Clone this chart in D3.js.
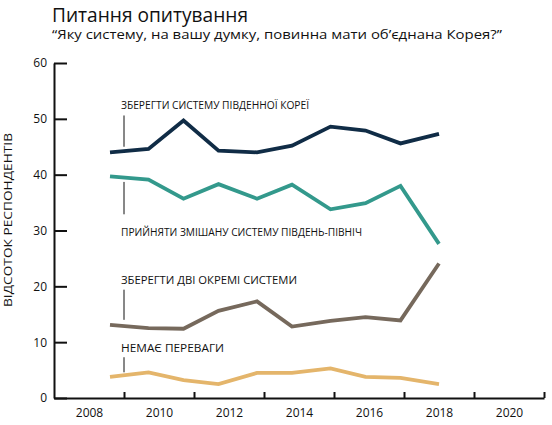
<!DOCTYPE html>
<html>
<head>
<meta charset="utf-8">
<script src="https://cdn.jsdelivr.net/npm/d3@7"></script>
<style>
  body { margin: 0; background: #fff; }
  text { font-family: "Open Sans", "Noto Sans", sans-serif; fill: #111; }
  .axis path, .axis line { stroke: #111; stroke-width: 2; }
  .axis text { font-size: 12px; }
</style>
</head>
<body>
<div id="chart"></div>
<script>
// survey dates (fractional years) and shares per answer
const years = [2008.6, 2009.7, 2010.7, 2011.7, 2012.8, 2013.8, 2014.9, 2015.9, 2016.9, 2018.0];
const keepSouth = [44.0, 44.6, 49.7, 44.3, 44.0, 45.2, 48.6, 47.9, 45.6, 47.3];
const mixedSystem = [39.7, 39.1, 35.7, 38.3, 35.7, 38.2, 33.8, 34.9, 38.0, 27.6];
const twoSystems = [13.1, 12.5, 12.4, 15.6, 17.3, 12.8, 13.8, 14.5, 13.9, 24.1];
const noPreference = [3.8, 4.6, 3.2, 2.5, 4.5, 4.5, 5.3, 3.8, 3.6, 2.5];

const seriesNames = [
  "ЗБЕРЕГТИ СИСТЕМУ ПІВДЕННОЇ КОРЕЇ",
  "ПРИЙНЯТИ ЗМІШАНУ СИСТЕМУ ПІВДЕНЬ-ПІВНІЧ",
  "ЗБЕРЕГТИ ДВІ ОКРЕМІ СИСТЕМИ",
  "НЕМАЄ ПЕРЕВАГИ"
];
const yTicks = [0, 10, 20, 30, 40, 50, 60];
const xTickLabels = [2008, 2010, 2012, 2014, 2016, 2018, 2020];
const xTickMarks = [2009, 2011, 2013, 2015, 2017, 2019, 2021];

const colors = ["#102c46", "#33998c", "#76695c", "#e4b56b"];
// label placement: value of text baseline, leader line from/to (in data units)
const labelSpots = [
  { y: 51.8, from: 50.6, to: 45.0, len: 188 },
  { y: 29.1, from: 38.7, to: 32.9, len: 241 },
  { y: 20.5, from: 19.4, to: 14.0, len: 176 },
  { y: 8.2, from: 7.3, to: 4.6, len: 103 }
];

const W = 552, H = 425;
const margin = { top: 63, right: 8, bottom: 27, left: 54 };

const svg = d3.select("#chart").append("svg")
  .attr("width", W).attr("height", H);

const x = d3.scaleLinear().domain([2007, 2021]).range([margin.left, 544]);
const y = d3.scaleLinear().domain([0, 60]).range([H - margin.bottom, margin.top]);

// title
svg.append("text").attr("x", 52).attr("y", 22)
  .style("font-size", "19.5px")
  .attr("textLength", 196).attr("lengthAdjust", "spacingAndGlyphs")
  .text("Питання опитування");
svg.append("text").attr("x", 52).attr("y", 39)
  .style("font-size", "12.5px")
  .attr("textLength", 450).attr("lengthAdjust", "spacingAndGlyphs")
  .text("“Яку систему, на вашу думку, повинна мати об’єднана Корея?”");

// y axis
svg.append("g").attr("class", "axis")
  .attr("transform", `translate(${margin.left},0)`)
  .call(d3.axisLeft(y).tickValues(yTicks).tickSizeInner(-13).tickSizeOuter(0).tickPadding(8))
  .call(g => g.selectAll("text").attr("x", -7));

// x axis: ticks at odd years, labels at even years
svg.append("g").attr("class", "axis")
  .attr("transform", `translate(0,${y(0)})`)
  .call(d3.axisBottom(x).tickValues(xTickMarks).tickSizeInner(-6).tickSizeOuter(0).tickFormat(""));
svg.append("g").attr("class", "axis")
  .attr("transform", `translate(0,${y(0)})`)
  .call(d3.axisBottom(x).tickValues(xTickLabels).tickSize(0).tickPadding(10).tickFormat(d3.format("d")))
  .call(g => g.select(".domain").remove());

svg.append("text")
  .attr("transform", `translate(12,${(133 + 307) / 2}) rotate(-90)`)
  .attr("text-anchor", "middle")
  .style("font-size", "11.5px")
  .attr("textLength", 174).attr("lengthAdjust", "spacingAndGlyphs")
  .text("ВІДСОТОК РЕСПОНДЕНТІВ");

const line = d3.line().x(d => x(d[0])).y(d => y(d[1]));
const allSeries = [keepSouth, mixedSystem, twoSystems, noPreference];

allSeries.forEach((vals, i) => {
  svg.append("path")
    .datum(years.map((yr, j) => [yr, vals[j]]))
    .attr("d", line)
    .attr("fill", "none")
    .attr("stroke", colors[i])
    .attr("stroke-width", 3.8)
    .attr("stroke-linejoin", "miter");

  const s = labelSpots[i];
  svg.append("line")
    .attr("x1", x(2009)).attr("x2", x(2009))
    .attr("y1", y(s.from)).attr("y2", y(s.to))
    .attr("stroke", "#111").attr("stroke-width", 1);
  svg.append("text")
    .attr("x", 121).attr("y", y(s.y))
    .style("font-size", "10px")
    .attr("textLength", s.len).attr("lengthAdjust", "spacingAndGlyphs")
    .text(seriesNames[i]);
});
</script>
</body>
</html>
